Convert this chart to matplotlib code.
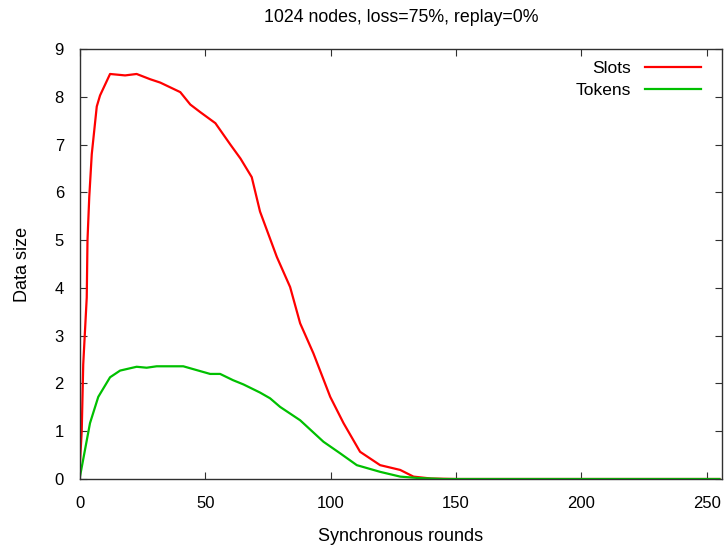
import matplotlib
matplotlib.use("Agg")
import matplotlib.pyplot as plt

plt.rcParams['font.family'] = ['Liberation Sans', 'DejaVu Sans']

# values
slots_x = [0, 0.7, 1.3, 2, 2.7, 3, 3.7, 4.7, 5.3, 6.7, 8, 12, 18, 22.6, 28, 32,
           40, 44, 48, 54, 60, 64, 68.5, 71.8, 78.5, 83.8, 87.8, 93.1, 99.8,
           105.1, 111.7, 119.7, 127.7, 133, 140, 150, 200, 255]
slots_y = [0.35, 1.0, 2.4, 3.1, 3.8, 5.0, 5.9, 6.8, 7.1, 7.8, 8.03, 8.48, 8.45,
           8.48, 8.37, 8.3, 8.1, 7.84, 7.68, 7.45, 7.0, 6.71, 6.32, 5.6, 4.65,
           4.02, 3.26, 2.63, 1.72, 1.17, 0.57, 0.29, 0.19, 0.05, 0.01, 0, 0, 0]

tokens_x = [0, 4, 7.3, 12, 16, 22.6, 26.6, 30.6, 41.2, 45.2, 51.9, 55.9, 61,
            65.2, 71.8, 75.8, 79.8, 87.8, 97.1, 103.7, 110.4, 119.7, 127.7,
            135, 145, 200, 255]
tokens_y = [0.05, 1.17, 1.72, 2.13, 2.27, 2.35, 2.33, 2.36, 2.36, 2.3, 2.2,
            2.2, 2.07, 1.98, 1.81, 1.69, 1.51, 1.23, 0.78, 0.54, 0.29, 0.15,
            0.05, 0.02, 0, 0, 0]

x_ticks = [0, 50, 100, 150, 200, 250]
y_ticks = [0, 1, 2, 3, 4, 5, 6, 7, 8, 9]

fig = plt.figure(figsize=(7.27, 5.46), dpi=100)
ax = fig.add_axes([0.110, 0.1227, 0.883, 0.7873])

ax.plot(slots_x, slots_y, color='#ff0000', lw=1.6, label='Slots')
ax.plot(tokens_x, tokens_y, color='#00c000', lw=1.6, label='Tokens')

ax.set_xlim(0, 256)
ax.set_ylim(0, 9)
ax.set_xticks(x_ticks)
ax.set_yticks(y_ticks)
ax.tick_params(direction='in', top=True, right=True, length=5, labelsize=12,
               color='#303030')
ax.tick_params(axis='y', pad=11.5)
ax.tick_params(axis='x', pad=12)
for s in ax.spines.values():
    s.set_color('#303030')
    s.set_linewidth(1.0)

ax.set_xlabel('Synchronous rounds', fontsize=13)
ax.set_ylabel('Data size', fontsize=13)
ax.xaxis.set_label_coords(0.5, -0.1326)
ax.yaxis.set_label_coords(-0.09, 0.5)
ax.xaxis.label.set_va('center')
ax.yaxis.label.set_va('center')
fig.text(0.5 * (0.110 + 0.993), 1 - 17 / 546, '1024 nodes, loss=75%, replay=0%',
         fontsize=12.8, ha='center', va='center')

ax.legend(loc='upper right', bbox_to_anchor=(1 - 9 / 642, 1), frameon=False,
          markerfirst=False, fontsize=12.5, handlelength=3.2,
          handletextpad=0.8, labelspacing=0.38, borderaxespad=0.3)

fig.savefig('out.png', dpi=100)
